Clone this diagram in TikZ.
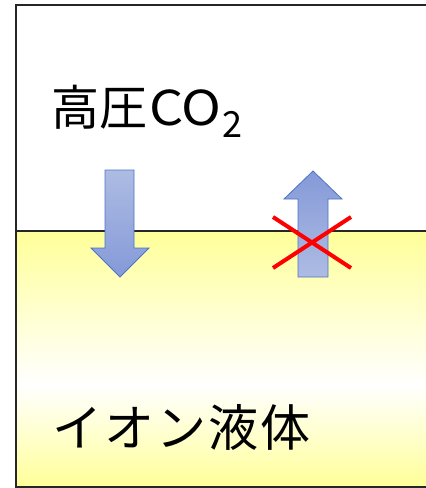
\documentclass[tikz,border=0pt]{standalone}
\usepackage{fontspec}
\usepackage{graphicx}
\newfontfamily\jp{Noto Sans CJK JP}
\definecolor{liqyellow}{HTML}{FFFF99}
\definecolor{arrlight}{HTML}{AEBCE3}
\definecolor{arrdark}{HTML}{8499D8}
\definecolor{arrborder}{HTML}{4A74C6}
\tikzset{
  frameline/.style={line width=2pt, draw=black!85},
  arrowshape/.style={draw=arrborder, line width=0.8pt, line join=miter},
  cross/.style={draw=red, line width=4pt},
  label/.style={inner sep=0pt, font=\jp\fontsize{48}{48}\selectfont}
}
\begin{document}
\begin{tikzpicture}[x=1pt,y=-1pt]
\useasboundingbox (0,0) rectangle (426,488);
% liquid region
\shade[top color=liqyellow, bottom color=white] (15,231) rectangle (426,385);
\shade[top color=white, bottom color=liqyellow] (15,384.5) rectangle (426,487);
% frame
\draw[frameline] (426,4.5) -- (15.5,4.5) -- (15.5,487) -- (426,487);
\draw[frameline, line width=2.5pt] (15,231) -- (426,231);
% down arrow
\shade[arrowshape, top color=arrlight, bottom color=arrdark]
  (105,170) -- (134,170) -- (134,248) -- (149,248) -- (120,277) -- (91,248) -- (105,248) -- cycle;
% up arrow
\shade[arrowshape, top color=arrdark, bottom color=arrlight]
  (298,277) -- (328,277) -- (328,199) -- (342,199) -- (313,171) -- (284,199) -- (298,199) -- cycle;
% red cross
\coordinate (c1) at (273,217);
\coordinate (c2) at (351,268);
\coordinate (c3) at (273,268);
\coordinate (c4) at (351,217);
\draw[cross] (c1) -- (c2);
\draw[cross] (c3) -- (c4);
% labels
\node[label, anchor=base west] (gas) at (51,125) {高圧\hspace{2pt}\scalebox{1.12}[1]{CO}\hspace{1pt}\raisebox{-12pt}{\fontsize{36}{36}\selectfont 2}};
\node[label, anchor=base west, font=\jp\fontsize{50}{50}\selectfont\addfontfeature{LetterSpace=4}] (liq) at (52,446) {イオン液体};
\end{tikzpicture}
\end{document}
